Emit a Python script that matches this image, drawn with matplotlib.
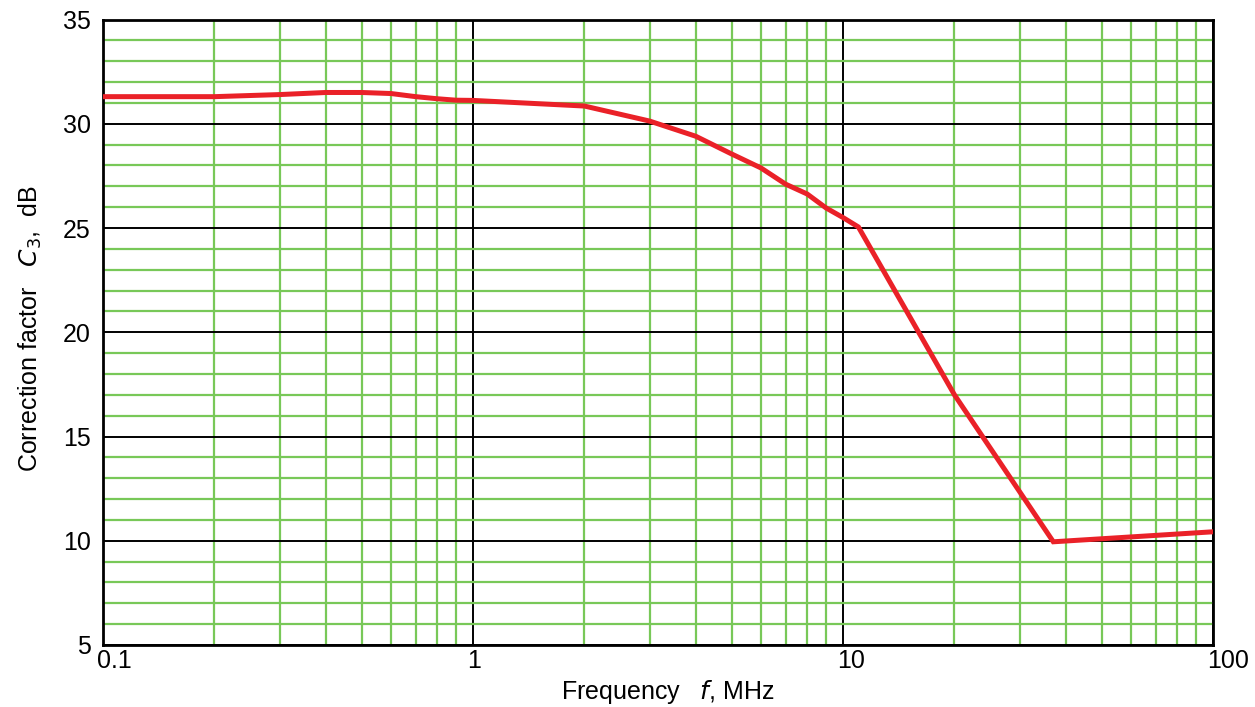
import matplotlib.pyplot as plt
import matplotlib.transforms as mtransforms
from matplotlib.ticker import MultipleLocator, LogLocator, NullFormatter

plt.rcParams['font.family'] = ['Liberation Sans', 'DejaVu Sans']

# Data
freq_mhz = [0.1, 0.2, 0.3, 0.4, 0.5, 0.6, 0.7, 0.8, 0.9, 1, 2, 3, 4, 5, 6, 7, 8, 9, 10, 11, 20, 37, 100]
c3_db = [31.3, 31.3, 31.4, 31.5, 31.5, 31.45, 31.3, 31.2, 31.13, 31.12, 30.85, 30.13, 29.4,
         28.55, 27.88, 27.1, 26.63, 25.96, 25.5, 25.05, 17.0, 9.95, 10.43]

x_ticks = [0.1, 1, 10, 100]
x_tick_labels = ['0.1', '1', '10', '100']
y_ticks = [5, 10, 15, 20, 25, 30, 35]

fig = plt.figure(figsize=(12.55, 7.07), dpi=100)
ax = fig.add_axes([0.0821, 0.0877, 0.8845, 0.8847])

ax.set_xscale('log')
ax.set_xlim(0.1, 100)
ax.set_ylim(5, 35)

# grid: green minor lines, black major lines
ax.xaxis.set_minor_locator(LogLocator(base=10, subs=range(2, 10)))
ax.xaxis.set_minor_formatter(NullFormatter())
ax.yaxis.set_minor_locator(MultipleLocator(1))
ax.grid(which='minor', color='#78c858', linewidth=1.6)
ax.grid(which='major', color='black', linewidth=1.4)
ax.set_axisbelow(True)

ax.plot(freq_mhz, c3_db, color='#ea2128', linewidth=3.6, solid_joinstyle='miter', zorder=5)

ax.set_xticks(x_ticks)
ax.set_xticklabels(x_tick_labels)
ax.set_yticks(y_ticks)
ax.tick_params(which='both', length=0, labelsize=18)
ax.tick_params(axis='x', pad=3)
ax.tick_params(axis='y', pad=9)

# x tick labels start just left of their gridline
offset = mtransforms.ScaledTranslation(-6 / 100, 0, fig.dpi_scale_trans)
for lbl in ax.get_xticklabels():
    lbl.set_horizontalalignment('left')
    lbl.set_transform(lbl.get_transform() + offset)

for sp in ax.spines.values():
    sp.set_linewidth(2)
    sp.set_color('black')

fig.text(0.532, 0.021, r'Frequency   $\it{f}$, MHz', fontsize=18, ha='center', va='center')
fig.text(0.024, 0.535, r'Correction factor   $\it{C}_3$,  dB', fontsize=18,
         rotation=90, ha='center', va='center')

fig.savefig('out.png', dpi=100)
